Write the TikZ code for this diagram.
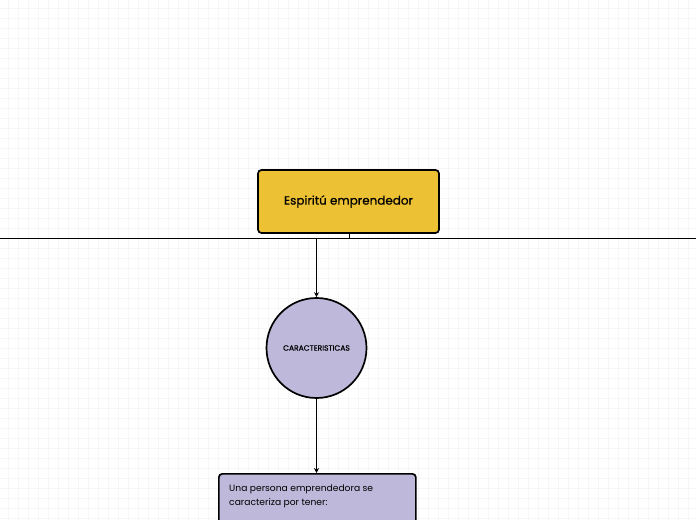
\documentclass[tikz,border=0pt]{standalone}
\usepackage{fontspec}
\setmainfont{Poppins}
\newfontfamily\popmed[FakeBold=0.7]{Poppins}
\usetikzlibrary{arrows.meta}
\definecolor{gridc}{HTML}{F6F6F6}
\definecolor{mainfill}{HTML}{EDC134}
\definecolor{lilac}{HTML}{BEB8DB}
\tikzset{
  mainbox/.style={draw=black, line width=1.7pt, rounded corners=3.5pt, fill=mainfill, minimum width=181bp, minimum height=63bp, inner sep=0pt, font=\popmed\fontsize{12}{14}\selectfont},
  circ/.style={draw=black, line width=1.7pt, circle, fill=lilac, minimum size=100bp, inner sep=0pt, font=\popmed\fontsize{7.6}{9}\selectfont},
  subbox/.style={draw=black, line width=1.7pt, rounded corners=3.5pt, fill=lilac, minimum width=197bp, minimum height=70bp, inner sep=0pt},
  subtxt/.style={anchor=north west, align=left, inner sep=0pt, font=\fontsize{9.2}{14}\selectfont},
  conn/.style={draw=black, line width=1.1pt},
  arr/.style={conn, -{Stealth[length=5bp,width=5bp]}}
}
\begin{document}
\begin{tikzpicture}[x=1bp,y=-1bp]
\useasboundingbox (0,0) rectangle (696,520);
\fill[white] (0,0) rectangle (696,520);
\foreach \i in {8.5,18.5,...,696} \draw[gridc, line width=0.75pt] (\i,0) -- (\i,520);
\foreach \j in {8.5,18.5,...,520} \draw[gridc, line width=0.75pt] (0,\j) -- (696,\j);
\node[mainbox] (main) at (348.5,201.5) {Espiritú emprendedor};
\coordinate (hub) at (349.5,238.5);
\coordinate (lend) at (0,238.5);
\coordinate (rend) at (696,238.5);
\coordinate (branch) at (316.5,238.5);
\draw[conn] (main.south -| hub) -- (hub);
\draw[conn, line width=1.3pt] (lend) -- (hub) -- (rend);
\node[circ] (car) at (316.5,348) {CARACTERISTICAS};
\draw[arr] (branch) -- (car.north);
\node[subbox, anchor=north west] (sub) at (218,473) {};
\node[subtxt] (subtext) at (229,484.5) {Una persona emprendedora se\\caracteriza por tener:};
\draw[arr] (car.south) -- (sub.north -| car);
\end{tikzpicture}
\end{document}
